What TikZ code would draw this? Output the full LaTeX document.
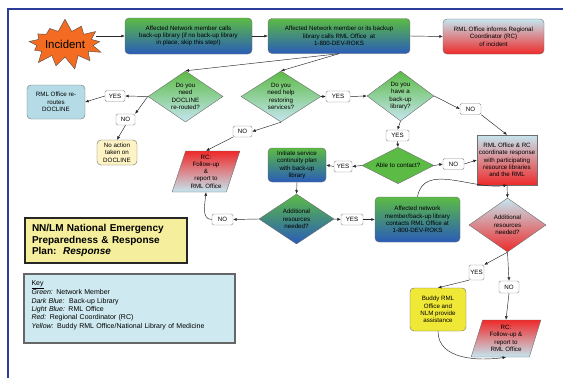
\documentclass[tikz,border=0pt]{standalone}
\usepackage{fontspec}
\setmainfont{Liberation Sans}
\usetikzlibrary{shapes.geometric,shapes.symbols,arrows.meta}
\definecolor{grn}{HTML}{5CBB45}
\definecolor{blu}{HTML}{2A5CB8}
\definecolor{lbl}{HTML}{C5E6F0}
\definecolor{rd}{HTML}{EE2A2A}
\definecolor{org}{HTML}{F36C21}
\definecolor{ylw}{HTML}{F0E836}
\definecolor{lyl}{HTML}{FDF3C4}
\definecolor{ttlf}{HTML}{F5EE9C}
\definecolor{keyf}{HTML}{CFE9F0}
\definecolor{rrf}{HTML}{B5DCE6}
\definecolor{frm}{HTML}{2B3C9A}
\definecolor{bord}{HTML}{6E6E6E}
\newcommand{\fs}{\fontsize{6.2}{7.3}\selectfont}
\begin{document}
\begin{tikzpicture}[x=1pt,y=1pt,
  box/.style={rounded corners=4pt, draw=bord, line width=0.4pt, align=center, inner sep=1pt, font=\fs},
  sq/.style={draw=bord, line width=0.4pt, align=center, inner sep=1pt, font=\fs},
  gb/.style={top color=grn, bottom color=blu},
  lr/.style={top color=lbl, bottom color=rd},
  rl/.style={top color=rd, bottom color=lbl},
  gl/.style={top color=grn, bottom color=lbl},
  dia/.style={diamond, draw=bord, line width=0.4pt, inner sep=0pt, align=center, font=\fs, aspect=1.4},
  para/.style={trapezium, trapezium left angle=73, trapezium right angle=107, trapezium stretches=true, draw=bord, line width=0.4pt, align=center, font=\fs, inner sep=0pt, rl},
  yn/.style={draw=bord!80, fill=white, rounded corners=1.5pt, font=\fs, inner sep=0pt, minimum height=11pt, minimum width=20pt},
  arr/.style={-{Latex[length=3.5pt,width=3pt]}, draw=black!85, line width=0.45pt},
  ln/.style={draw=black!85, line width=0.45pt}
]
\useasboundingbox (0,0) rectangle (563,-378);
\fill[white] (0,0) rectangle (563,-378);
\draw[frm, line width=2pt] (8,-378) -- (8,-9) -- (563,-9);

% top row
\node[starburst, starburst points=13, starburst point height=13pt, random starburst=7, fill=org, draw=black!70, line width=0.4pt, minimum width=77pt, minimum height=52pt, inner sep=0pt, font=\fontsize{11.4}{13}\selectfont] (inc) at (65,-44) {Incident};
\node[box,gb,minimum width=127pt,minimum height=36pt] (b1) at (188.5,-36) {Affected Network member calls\\back-up library (if no back-up library\\in place, skip this step!)};
\node[box,gb,minimum width=142pt,minimum height=35pt] (b2) at (339,-36) {Affected Network member or its backup\\library calls RML Office\ \ at\\1-800-DEV-ROKS};
\node[box,lr,minimum width=101pt,minimum height=35pt] (b3) at (493.5,-36.5) {RML Office informs Regional\\Coordinator (RC)\\of incident};

% second row
\node[dia,gl,minimum width=75pt,minimum height=51pt] (d1) at (185.5,-96.5) {Do you\\need\\DOCLINE\\re-routed?};
\node[yn] (yes1) at (115,-96) {YES};
\node[box,fill=rrf,minimum width=58pt,minimum height=34pt] (rr) at (56,-102) {RML Office re-\\routes\\DOCLINE};
\node[yn,minimum width=19pt] (no1) at (125.5,-119.5) {NO};
\node[box,fill=lyl,minimum width=40pt,minimum height=25pt] (na) at (117,-152.5) {No action\\taken on\\DOCLINE};
\node[dia,gl,minimum width=80pt,minimum height=51pt] (d2) at (281,-96.5) {Do you\\need help\\restoring\\services?};
\node[yn,minimum width=24pt] (yes2) at (338,-96.5) {YES};
\node[dia,gl,minimum width=67pt,minimum height=50pt] (d3) at (400.5,-96) {Do you\\have a\\back-up\\library?};
\node[yn,minimum width=21pt] (no3) at (470.5,-109) {NO};
\node[yn,minimum width=23pt] (yes3) at (397.5,-135.5) {YES};
\node[dia,fill=grn,minimum width=72pt,minimum height=33pt] (d4) at (398,-165.5) {Able to contact?};
\node[yn,minimum width=18pt] (yes4) at (343,-166.5) {YES};
\node[yn,minimum width=21pt] (no4) at (453.5,-164) {NO};
\node[sq,lr,minimum width=60pt,minimum height=50pt] (rcc) at (507,-160) {RML Office \& RC\\coordinate response\\with participating\\resource libraries\\and the RML};
\node[box,gb,minimum width=58pt,minimum height=34pt] (init) at (297,-165) {Initiate service\\continuity plan\\with back-up\\library};
\node[para,minimum width=68pt,minimum height=41pt] (rc1) at (206,-171.5) {RC:\\Follow-up\\\&\\report to\\RML Office};
\node[yn,minimum width=19pt] (no2) at (242.5,-131.5) {NO};

% third row
\node[dia,gb,minimum width=75pt,minimum height=50pt] (d5) at (296.5,-219) {Additional\\resources\\needed?};
\node[yn,minimum width=21pt] (no5) at (222.5,-219.5) {NO};
\node[yn,minimum width=22pt] (yes5) at (352,-219.5) {YES};
\node[box,gb,minimum width=85pt,minimum height=45pt] (af2) at (417.5,-219.5) {Affected network\\member/back-up library\\contacts RML Office at\\1-800-DEV-ROKS};
\node[dia,lr,minimum width=77pt,minimum height=54pt] (d6) at (507.5,-225) {Additional\\resources\\needed?};
\node[yn,minimum width=15pt,minimum height=15pt] (yes6) at (476.5,-272.5) {YES};
\node[yn,minimum width=20pt,minimum height=12pt] (no6) at (509,-287) {NO};
\node[box,fill=ylw,minimum width=56pt,minimum height=43pt] (bud) at (438,-309.5) {Buddy RML\\Office and\\NLM provide\\assistance};
\node[para,minimum width=70pt,minimum height=37pt] (rc2) at (506,-338.5) {RC:\\Follow-up \&\\report to\\RML Office};

% title and key
\node[draw=black!85, line width=2pt, fill=ttlf, minimum width=162pt, minimum height=45pt, text width=148pt, align=left, inner sep=0pt, font=\fontsize{10}{11.3}\selectfont\bfseries] (ttl) at (106,-240.5) {NN/LM National Emergency\\Preparedness \& Response\\Plan:\ \ \textit{Response}};
\node[draw=black!60, line width=2.5pt, fill=keyf, minimum width=211pt, minimum height=69pt, text width=196pt, align=left, inner sep=0pt, font=\fontsize{7}{8.3}\selectfont] (key) at (129.5,-308.5) {\underline{Key}\\\textit{Green:} Network Member\\\textit{Dark Blue:}\ \ Back-up Library\\\textit{Light Blue:} RML Office\\\textit{Red:} Regional Coordinator (RC)\\\textit{Yellow:} Buddy RML Office/National Library of Medicine\\\mbox{}};

% connectors
\draw[arr] (b1.west -| inc.east) -- (b1.west);
\draw[arr] (b1.east) -- (b2.west);
\draw[arr] (b2.east) -- (b3.west);
\draw[arr] (b2.south) -- (d1.north);
\draw[arr] (b2.south) -- (d2.north);
\draw[arr] (d1.west) -- (yes1.east);
\draw[arr] (yes1.west) -- (rr.east);
\draw[arr] (d1.west) -- (no1.north east);
\draw[arr] (no1.south) -- (na.north);
\draw[arr] (d2.south) -- (no2.east);
\draw[arr] (no2.south west) -- (rc1.north);
\draw[arr] (d2.east) -- (yes2.west);
\draw[arr] (yes2.east) -- (d3.west);
\draw[arr] (d3.east) -- (no3.west);
\draw[arr] (no3.south east) -- (rcc.north);
\draw[arr] (d3.south) -- (yes3.north);
\draw[arr] (yes3.south) -- (d4.north);
\draw[arr] (d4.west) -- (yes4.east);
\draw[arr] (yes4.west) -- (init.east);
\draw[arr] (d4.east) -- (no4.west);
\draw[arr] (no4.east) -- (rcc.west);
\draw[arr] (init.south) -- (d5.north);
\draw[arr] (d5.west) -- (no5.east);
\draw[arr] (no5.west) to[out=180,in=-95] (rc1.south);
\draw[arr] (d5.east) -- (yes5.west);
\draw[arr] (yes5.east) -- (af2.west);
\draw[arr] (af2.north) to[out=80,in=188] (rcc.south);
\draw[arr] (rcc.south) -- (d6.north);
\draw[arr] (d6.south) -- (yes6.north east);
\draw[arr] (yes6.south west) -- (bud.north);
\draw[arr] (d6.south) -- (no6.north);
\draw[arr] (no6.south) -- (rc2.north);
\draw[arr] (bud.south) to[out=-90,in=188] (rc2.south);
\end{tikzpicture}
\end{document}
